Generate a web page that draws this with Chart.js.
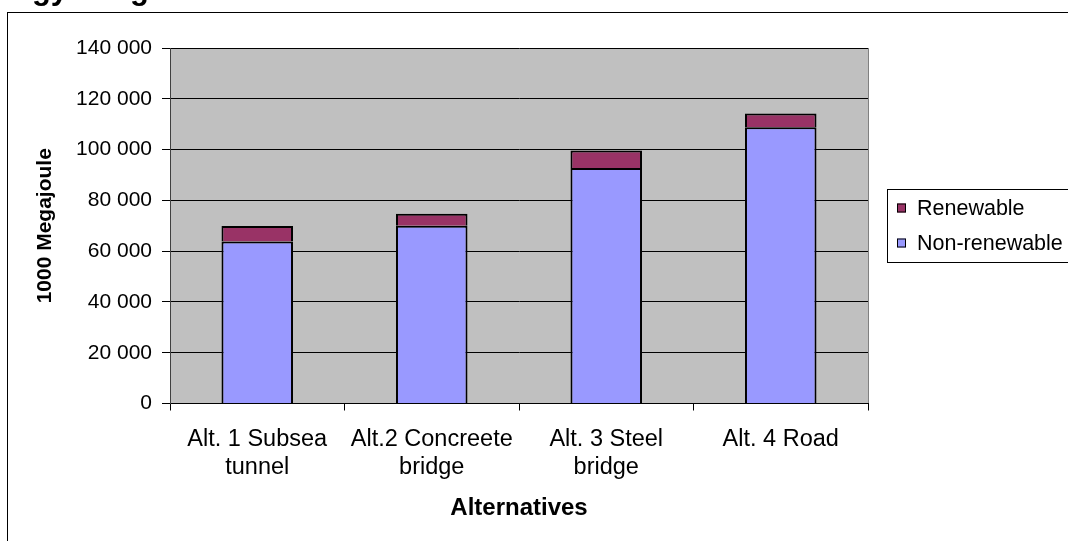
<!DOCTYPE html>
<html>
<head>
<meta charset="utf-8">
<script src="https://cdn.jsdelivr.net/npm/chart.js@4.4.1/dist/chart.umd.min.js"></script>
<style>
  html, body { margin: 0; padding: 0; background: #fff; }
  #wrap { width: 1068px; height: 541px; position: relative; }
</style>
</head>
<body>
<div id="wrap"><canvas id="c" width="1068" height="541"></canvas></div>
<script>
// Energy use per alternative, in 1000 MJ
const categories = [
  ['Alt. 1 Subsea', 'tunnel'],
  ['Alt.2 Concreete', 'bridge'],
  ['Alt. 3 Steel', 'bridge'],
  ['Alt. 4 Road']
];
const nonRenewable = [63800, 70000, 92700, 108800];
const renewable = [6100, 4700, 6900, 5400];
const yTicks = [0, 20000, 40000, 60000, 80000, 100000, 120000, 140000];

const FONT = 'Arial, "Liberation Sans", sans-serif';

function fmt(v) {
  return String(v).replace(/\B(?=(\d{3})+(?!\d))/g, ' ');
}

// Page frame, grey plot background, cropped heading and boxed legend
const decor = {
  id: 'decor',
  beforeDraw(chart) {
    const { ctx, chartArea: a } = chart;
    ctx.save();
    ctx.fillStyle = '#ffffff';
    ctx.fillRect(0, 0, chart.width, chart.height);
    ctx.strokeStyle = '#000000';
    ctx.lineWidth = 1;
    ctx.strokeRect(7.5, 12.5, chart.width + 10, chart.height + 10);
    ctx.fillStyle = '#000000';
    ctx.font = 'bold 31px ' + FONT;
    ctx.textBaseline = 'alphabetic';
    ctx.fillText('Energy usage', -37, -1);
    ctx.fillStyle = '#c0c0c0';
    ctx.fillRect(a.left, a.top, a.right - a.left, a.bottom - a.top);
    ctx.strokeStyle = '#808080';
    ctx.beginPath();
    ctx.moveTo(a.right + 0.5, a.top);
    ctx.lineTo(a.right + 0.5, a.bottom);
    ctx.stroke();
    ctx.restore();
  },
  afterDraw(chart) {
    const { ctx } = chart;
    const ds = chart.data.datasets;
    ctx.save();
    ctx.strokeStyle = '#000000';
    ctx.lineWidth = 1;
    ctx.strokeRect(887.5, 189.5, 190, 73);
    ctx.font = '21.5px ' + FONT;
    ctx.textBaseline = 'middle';
    const items = [ds[1], ds[0]];
    items.forEach((d, i) => {
      const cy = 208 + i * 35;
      ctx.fillStyle = d.backgroundColor;
      ctx.fillRect(897, cy - 4.5, 9, 9);
      ctx.strokeStyle = '#000000';
      ctx.strokeRect(897.5, cy - 4, 8, 8);
      ctx.fillStyle = '#000000';
      ctx.fillText(d.label, 917, cy + 1);
    });
    ctx.restore();
  }
};

new Chart(document.getElementById('c'), {
  type: 'bar',
  data: {
    labels: categories,
    datasets: [
      {
        label: 'Non-renewable',
        data: nonRenewable,
        backgroundColor: '#9999ff',
        borderColor: '#000000',
        borderWidth: 2,
        barPercentage: 0.41,
        categoryPercentage: 1
      },
      {
        label: 'Renewable',
        data: renewable,
        backgroundColor: '#993366',
        borderColor: '#000000',
        borderWidth: 2,
        barPercentage: 0.41,
        categoryPercentage: 1
      }
    ]
  },
  options: {
    responsive: false,
    animation: false,
    devicePixelRatio: 1,
    layout: { padding: { left: 8, top: 48, right: 200, bottom: 0 } },
    plugins: {
      legend: { display: false },
      tooltip: { enabled: false }
    },
    scales: {
      x: {
        stacked: true,
        afterFit(s) { s.height = 137.5; },
        grid: {
          offset: true,
          drawOnChartArea: false,
          color: '#000000',
          tickLength: 7
        },
        border: { color: '#000000', width: 1 },
        ticks: {
          color: '#000000',
          font: { family: FONT, size: 23.5, lineHeight: 1.15 },
          padding: 16,
          maxRotation: 0,
          autoSkip: false
        },
        title: {
          display: true,
          text: 'Alternatives',
          color: '#000000',
          font: { family: FONT, size: 24, weight: 'bold' },
          padding: { top: 0, bottom: 18 }
        }
      },
      y: {
        stacked: true,
        min: 0,
        max: 140000,
        afterFit(s) { s.width = 162; },
        afterBuildTicks(s) { s.ticks = yTicks.map(v => ({ value: v })); },
        grid: {
          color: '#000000',
          lineWidth: 1,
          tickLength: 8
        },
        border: { color: '#404040', width: 1 },
        ticks: {
          color: '#000000',
          font: { family: FONT, size: 21 },
          padding: 10,
          callback: v => fmt(v)
        },
        title: {
          display: true,
          text: '1000 Megajoule',
          color: '#000000',
          font: { family: FONT, size: 21, weight: 'bold' },
          padding: { top: 25, bottom: 0 }
        }
      }
    }
  },
  plugins: [decor]
});
</script>
</body>
</html>
